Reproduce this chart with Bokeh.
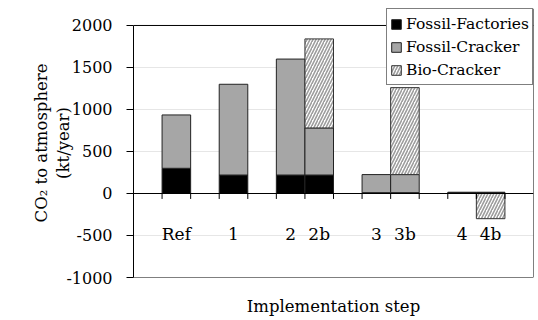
import numpy as np
from bokeh.plotting import figure
from bokeh.models import Range1d, FixedTicker, LinearAxis, Legend, LegendItem, Span
from bokeh.embed import file_html
from bokeh.resources import INLINE

# slot layout of the category axis (blank slots separate the groups)
slots = ["", "Ref", "", "1", "", "2", "2b", "", "3", "3b", "", "4", "4b", ""]
steps = ["Ref", "1", "2", "2b", "3", "3b", "4", "4b"]
fossil_factories = [300, 220, 220, 220, 10, 10, 10, 10]
fossil_cracker = [635, 1080, 1380, 560, 215, 215, 5, 5]
bio_cracker = [0, 0, 0, 1060, 0, 1035, 0, -300]
y_ticks = [-1000, -500, 0, 500, 1000, 1500, 2000]
series_names = ["Fossil-Factories", "Fossil-Cracker", "Bio-Cracker"]

FONT = "DejaVu Serif"

x = np.array([slots.index(s) for s in steps], dtype=float)
f = np.array(fossil_factories, dtype=float)
c = np.array(fossil_cracker, dtype=float)
b = np.array(bio_cracker, dtype=float)
pos_base = f + c
bio_bottom = np.where(b >= 0, pos_base, 0.0)
bio_top = np.where(b >= 0, pos_base + b, b)
has_bio = b != 0

y_min, y_max = min(y_ticks), max(y_ticks)
# head-room above the top tick so the legend can sit above the plot box
y_top = y_max + 202
TICK_LEN = 65  # length of category tick marks, in y units (~5 px)

p = figure(width=538, height=320,
           x_range=Range1d(-0.5, len(slots) - 0.5),
           y_range=Range1d(y_min, y_top),
           x_axis_type=None,
           output_backend="svg", toolbar_location=None,
           min_border_left=133, min_border_right=5,
           min_border_top=8, min_border_bottom=43)
p.background_fill_color = "white"
p.border_fill_color = "white"
p.outline_line_color = None

r_f = p.vbar(x=x, bottom=0, top=f, width=1.0,
             fill_color="black", line_color="#222222", line_width=1)
r_c = p.vbar(x=x, bottom=f, top=pos_base, width=1.0,
             fill_color="#a6a6a6", line_color="#222222", line_width=1)
r_b = p.vbar(x=x[has_bio], bottom=bio_bottom[has_bio], top=bio_top[has_bio], width=1.0,
             fill_color="white", hatch_pattern="/", hatch_color="#9c9c9c",
             hatch_scale=6, hatch_weight=1.6,
             line_color="#333333", line_width=1)

yax = p.yaxis[0]
yax.ticker = FixedTicker(ticks=y_ticks)
yax.major_label_overrides = {t: str(t) for t in y_ticks}
yax.bounds = (y_min, y_max)
yax.axis_line_color = "black"
yax.major_tick_out = 7
yax.major_tick_in = 0
yax.minor_tick_line_color = None
yax.major_label_text_font = FONT
yax.major_label_text_font_size = "16px"
yax.major_label_text_color = "black"
yax.major_label_standoff = 14
yax.axis_label = "CO\u2082 to atmosphere\n(kt/year)"
yax.axis_label_text_font = FONT
yax.axis_label_text_font_size = "16.5px"
yax.axis_label_text_font_style = "normal"
yax.axis_label_text_color = "black"
yax.axis_label_standoff = -10

p.ygrid.grid_line_color = "#e6e6e6"
p.xgrid.visible = False

p.add_layout(Span(location=y_max, dimension="width", line_color="black", line_width=1))
p.add_layout(Span(location=y_min, dimension="width", line_color="black", line_width=1))
p.add_layout(Span(location=len(slots) - 0.5, dimension="height", line_color="black", line_width=1))

# category axis drawn at y = 0: tick marks at the slot boundaries
boundaries = [i + 0.5 for i in range(len(slots) - 1)]
p.segment(x0=boundaries, y0=0, x1=boundaries, y1=-TICK_LEN,
          line_color="black", line_width=1)

label_axis = LinearAxis(
    ticker=FixedTicker(ticks=list(x)),
    fixed_location=0,
    major_label_overrides={int(i): s for i, s in zip(x, steps)},
    major_tick_line_color=None, minor_tick_line_color=None,
    major_tick_out=0, major_tick_in=0,
    axis_line_color="black",
    major_label_standoff=31,
    major_label_text_font=FONT,
    major_label_text_font_size="17px",
    major_label_text_color="black",
)
p.add_layout(label_axis, "below")

title_axis = LinearAxis(
    ticker=FixedTicker(ticks=[]),
    axis_label="Implementation step",
    axis_label_text_font=FONT,
    axis_label_text_font_size="16.5px",
    axis_label_text_font_style="normal",
    axis_label_text_color="black",
    axis_line_color=None,
    major_tick_line_color=None,
    minor_tick_line_color=None,
    major_label_text_font_size="0px",
    axis_label_standoff=19,
)
p.add_layout(title_axis, "below")

legend = Legend(
    items=[LegendItem(label=series_names[0], renderers=[r_f]),
           LegendItem(label=series_names[1], renderers=[r_c]),
           LegendItem(label=series_names[2], renderers=[r_b])],
    location=(253, 192),
    label_text_font=FONT, label_text_font_size="15.5px", label_text_color="black",
    glyph_width=12, glyph_height=12, label_standoff=4,
    label_height=23, spacing=0, padding=3, margin=0,
    border_line_color="black", border_line_width=1,
    background_fill_color="white", background_fill_alpha=1.0,
)
p.add_layout(legend)

open("out.html", "w").write(file_html(p, INLINE))
